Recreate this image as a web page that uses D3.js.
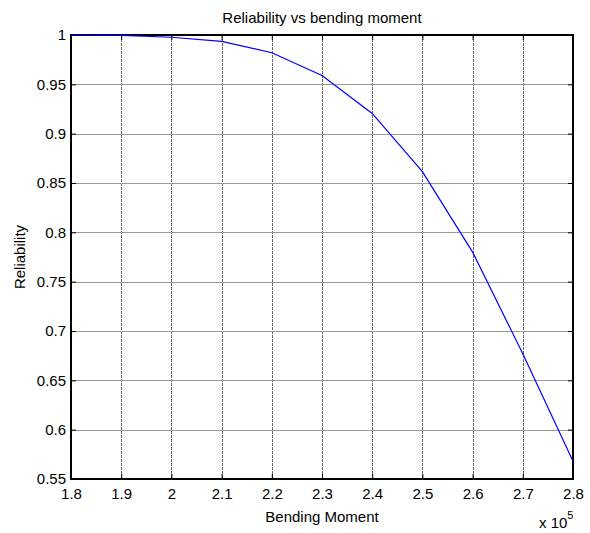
<!DOCTYPE html>
<html>
<head>
<meta charset="utf-8">
<script src="https://cdn.jsdelivr.net/npm/d3@7"></script>
<style>
  body { margin: 0; background: #fff; }
  svg { display: block; font-family: "Liberation Sans", Arial, sans-serif; }
</style>
</head>
<body>
<div id="chart"></div>
<script>
// bending moment (x 10^5) and reliability
var moments = [1.8, 1.9, 2.0, 2.1, 2.2, 2.3, 2.4, 2.5, 2.6, 2.7, 2.8];
var reliability = [1.0, 0.9997, 0.9977, 0.9935, 0.982, 0.959, 0.9205, 0.8615, 0.780, 0.677, 0.568];
var xTicks = [1.8, 1.9, 2.0, 2.1, 2.2, 2.3, 2.4, 2.5, 2.6, 2.7, 2.8];
var yTicks = [0.55, 0.6, 0.65, 0.7, 0.75, 0.8, 0.85, 0.9, 0.95, 1];

(function () {
  var w = 590, h = 533,
      x0 = 71, x1 = 573, y0 = 35, y1 = 479;

  var x = d3.scaleLinear().domain([1.8, 2.8]).range([x0, x1]);
  var y = d3.scaleLinear().domain([0.55, 1]).range([y1, y0]);

  var svg = d3.select("#chart").append("svg")
        .attr("width", w)
        .attr("height", h);

  // grid
  var grid = svg.append("g").attr("class", "grid");
  grid.selectAll("line.vx")
    .data(xTicks.slice(1, -1))
    .enter().append("line")
    .attr("x1", (d) => Math.round(x(d)) + 0.5)
    .attr("x2", (d) => Math.round(x(d)) + 0.5)
    .attr("y1", y0).attr("y2", y1)
    .attr("stroke", "#666").attr("stroke-dasharray", "3,1");
  grid.selectAll("line.hy")
    .data(yTicks.slice(1, -1))
    .enter().append("line")
    .attr("y1", (d) => Math.round(y(d)) + 0.5)
    .attr("y2", (d) => Math.round(y(d)) + 0.5)
    .attr("x1", x0).attr("x2", x1)
    .attr("stroke", "#999");

  // axes (ticks inward, mirrored on top/right)
  var fmt = (d) => String(+d.toFixed(2));

  var xAxis = svg.append("g")
    .attr("transform", "translate(0," + y1 + ")")
    .call(d3.axisBottom(x).tickValues(xTicks).tickSize(-5).tickPadding(9).tickFormat(fmt));
  var xTop = svg.append("g")
    .attr("transform", "translate(0," + y0 + ")")
    .call(d3.axisTop(x).tickValues(xTicks).tickSize(-5).tickFormat(""));
  var yAxis = svg.append("g")
    .attr("transform", "translate(" + x0 + ",0)")
    .call(d3.axisLeft(y).tickValues(yTicks).tickSize(-5).tickPadding(5).tickFormat(fmt));
  var yRight = svg.append("g")
    .attr("transform", "translate(" + x1 + ",0)")
    .call(d3.axisRight(y).tickValues(yTicks).tickSize(-5).tickFormat(""));

  [xAxis, xTop, yAxis, yRight].forEach((a) => {
    a.select(".domain").remove();
    a.selectAll(".tick line").attr("stroke", "#000");
    a.selectAll("text")
      .attr("fill", "#000")
      .style("font-size", "15px")
      .style("font-family", "'Liberation Sans', Arial, sans-serif");
  });

  // box
  svg.append("rect")
    .attr("x", x0).attr("y", y0)
    .attr("width", x1 - x0).attr("height", y1 - y0)
    .attr("fill", "none").attr("stroke", "#000").attr("stroke-width", 2);

  // data line
  var line = d3.line()
    .x((d, i) => x(moments[i]))
    .y((d) => y(d));

  svg.append("path")
    .datum(reliability)
    .attr("d", line)
    .attr("fill", "none")
    .attr("stroke", "#0000ff")
    .attr("stroke-width", 1.2);

  // labels
  svg.append("text")
    .attr("x", (x0 + x1) / 2).attr("y", 23)
    .attr("text-anchor", "middle")
    .style("font-size", "15px")
    .text("Reliability vs bending moment");

  svg.append("text")
    .attr("x", (x0 + x1) / 2).attr("y", 522)
    .attr("text-anchor", "middle")
    .style("font-size", "15px")
    .text("Bending Moment");

  svg.append("text")
    .attr("transform", "translate(25," + (y0 + y1) / 2 + ") rotate(-90)")
    .attr("text-anchor", "middle")
    .style("font-size", "15px")
    .text("Reliability");

  var exp = svg.append("text")
    .attr("x", 539).attr("y", 528)
    .style("font-size", "15px");
  exp.append("tspan").text("x 10");
  exp.append("tspan").attr("dy", -9).style("font-size", "11px").text("5");
})();
</script>
</body>
</html>
